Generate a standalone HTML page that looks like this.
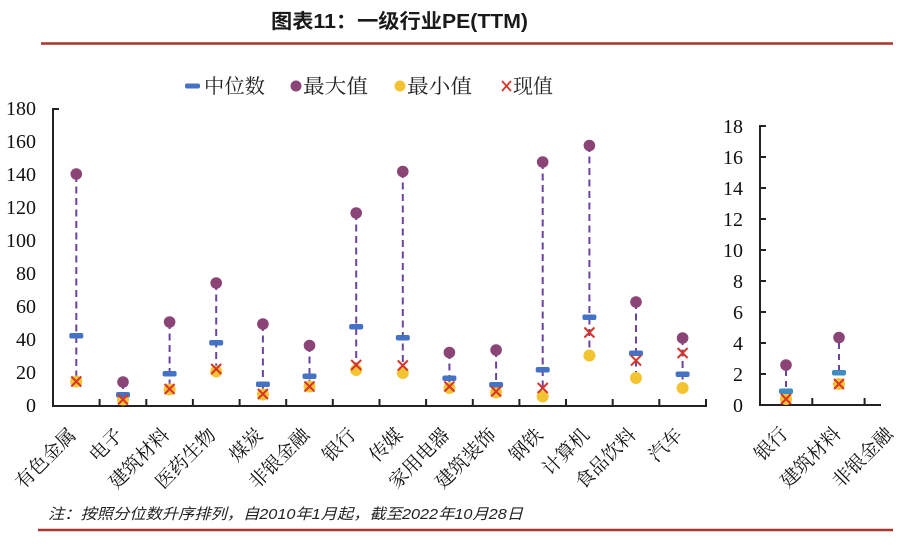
<!DOCTYPE html>
<html><head><meta charset="utf-8"><style>
html,body{margin:0;padding:0;background:#fff;}
svg{display:block;}
</style></head><body>
<svg width="905" height="548" viewBox="0 0 905 548" xmlns="http://www.w3.org/2000/svg">
<rect width="905" height="548" fill="#fff"/>
<!-- title -->
<text x="271" y="28" font-family="'Liberation Sans','Noto Sans CJK SC',sans-serif" font-weight="bold" font-size="20" fill="#1a1a1a" textLength="257" lengthAdjust="spacingAndGlyphs">图表11：一级行业PE(TTM)</text>
<line x1="41" y1="43.5" x2="893" y2="43.5" stroke="#A8352D" stroke-width="2.5"/>

<!-- legend -->
<g font-family="'Liberation Serif','Noto Serif CJK SC',serif" font-size="20" fill="#222">
<rect x="185" y="83.5" width="15" height="5" rx="2" fill="#4472C4"/>
<text x="204" y="93" textLength="61" lengthAdjust="spacingAndGlyphs">中位数</text>
<circle cx="296" cy="86" r="5.5" fill="#8A4476"/>
<text x="303" y="93" textLength="65" lengthAdjust="spacingAndGlyphs">最大值</text>
<circle cx="400" cy="86" r="5.5" fill="#F3C432"/>
<text x="407" y="93" textLength="65" lengthAdjust="spacingAndGlyphs">最小值</text>
<g stroke="#D8352A" stroke-width="1.8"><line x1="502" y1="81" x2="511" y2="91"/><line x1="511" y1="81" x2="502" y2="91"/></g>
<text x="513" y="93" textLength="40" lengthAdjust="spacingAndGlyphs">现值</text>
</g>

<!-- left axes -->
<g font-family="'Liberation Serif',serif" font-size="20" fill="#111" text-anchor="end">
<text x="36" y="115">180</text>
<text x="36" y="148">160</text>
<text x="36" y="181">140</text>
<text x="36" y="214">120</text>
<text x="36" y="247">100</text>
<text x="36" y="280">80</text>
<text x="36" y="313">60</text>
<text x="36" y="346">40</text>
<text x="36" y="379">20</text>
<text x="36" y="412">0</text>
</g>
<g stroke="#222" stroke-width="2" fill="none">
<line x1="53" y1="108" x2="53" y2="407"/>
<line x1="52" y1="406" x2="707" y2="406"/>
<line x1="53" y1="109" x2="59" y2="109"/>
<line x1="99.6" y1="406" x2="99.6" y2="399"/>
<line x1="146.3" y1="406" x2="146.3" y2="399"/>
<line x1="192.9" y1="406" x2="192.9" y2="399"/>
<line x1="239.6" y1="406" x2="239.6" y2="399"/>
<line x1="286.2" y1="406" x2="286.2" y2="399"/>
<line x1="332.8" y1="406" x2="332.8" y2="399"/>
<line x1="379.5" y1="406" x2="379.5" y2="399"/>
<line x1="426.1" y1="406" x2="426.1" y2="399"/>
<line x1="472.8" y1="406" x2="472.8" y2="399"/>
<line x1="519.4" y1="406" x2="519.4" y2="399"/>
<line x1="566" y1="406" x2="566" y2="399"/>
<line x1="612.7" y1="406" x2="612.7" y2="399"/>
<line x1="659.3" y1="406" x2="659.3" y2="399"/>
<line x1="706" y1="406" x2="706" y2="399"/>
</g>

<!-- left data: y = 406 - v*1.65 -->
<g>
<g stroke="#6A45A0" stroke-width="2" stroke-dasharray="7,4.5">
<line x1="76.3" y1="175" x2="76.3" y2="381"/>
<line x1="123" y1="382" x2="123" y2="399"/>
<line x1="169.6" y1="322" x2="169.6" y2="389"/>
<line x1="216.2" y1="283" x2="216.2" y2="371"/>
<line x1="262.9" y1="324" x2="262.9" y2="394"/>
<line x1="309.5" y1="345" x2="309.5" y2="386"/>
<line x1="356.2" y1="213" x2="356.2" y2="370"/>
<line x1="402.8" y1="171" x2="402.8" y2="373"/>
<line x1="449.4" y1="352" x2="449.4" y2="388"/>
<line x1="496.1" y1="350" x2="496.1" y2="392"/>
<line x1="542.7" y1="162" x2="542.7" y2="396"/>
<line x1="589.4" y1="145" x2="589.4" y2="356"/>
<line x1="636" y1="302" x2="636" y2="378"/>
<line x1="682.6" y1="338" x2="682.6" y2="388"/>
</g>
<g fill="#F3C432">
<circle cx="76.3" cy="381.5" r="6"/>
<circle cx="123" cy="399.5" r="6"/>
<circle cx="169.6" cy="389.5" r="6"/>
<circle cx="216.2" cy="371.5" r="6"/>
<circle cx="262.9" cy="394.5" r="6"/>
<circle cx="309.5" cy="386.5" r="6"/>
<circle cx="356.2" cy="370" r="6"/>
<circle cx="402.8" cy="373" r="6"/>
<circle cx="449.4" cy="388" r="6"/>
<circle cx="496.1" cy="392.5" r="6"/>
<circle cx="542.7" cy="396.5" r="6"/>
<circle cx="589.4" cy="355.5" r="6"/>
<circle cx="636" cy="378" r="6"/>
<circle cx="682.6" cy="388" r="6"/>
</g>
<g fill="#4472C4">
<rect x="69.3" y="333" width="14" height="5.5" rx="2"/>
<rect x="116" y="392" width="14" height="5.5" rx="2"/>
<rect x="162.6" y="371" width="14" height="5.5" rx="2"/>
<rect x="209.2" y="340" width="14" height="5.5" rx="2"/>
<rect x="255.9" y="381.5" width="14" height="5.5" rx="2"/>
<rect x="302.5" y="373.5" width="14" height="5.5" rx="2"/>
<rect x="349.2" y="324" width="14" height="5.5" rx="2"/>
<rect x="395.8" y="335" width="14" height="5.5" rx="2"/>
<rect x="442.4" y="375.5" width="14" height="5.5" rx="2"/>
<rect x="489.1" y="382" width="14" height="5.5" rx="2"/>
<rect x="535.7" y="367" width="14" height="5.5" rx="2"/>
<rect x="582.4" y="314.5" width="14" height="5.5" rx="2"/>
<rect x="629" y="350.5" width="14" height="5.5" rx="2"/>
<rect x="675.6" y="371.5" width="14" height="5.5" rx="2"/>
</g>
<g fill="#8A4476">
<circle cx="76.3" cy="174" r="5.8"/>
<circle cx="123" cy="382" r="5.8"/>
<circle cx="169.6" cy="322" r="5.8"/>
<circle cx="216.2" cy="283" r="5.8"/>
<circle cx="262.9" cy="324" r="5.8"/>
<circle cx="309.5" cy="345.5" r="5.8"/>
<circle cx="356.2" cy="213" r="5.8"/>
<circle cx="402.8" cy="171.5" r="5.8"/>
<circle cx="449.4" cy="352.5" r="5.8"/>
<circle cx="496.1" cy="350" r="5.8"/>
<circle cx="542.7" cy="162" r="5.8"/>
<circle cx="589.4" cy="145.5" r="5.8"/>
<circle cx="636" cy="302" r="5.8"/>
<circle cx="682.6" cy="338" r="5.8"/>
</g>
<g stroke="#D8352A" stroke-width="2" fill="none">
<path d="M71.3 376.5l10 10M81.3 376.5l-10 10"/>
<path d="M118 394.5l10 10M128 394.5l-10 10"/>
<path d="M164.6 384l10 10M174.6 384l-10 10"/>
<path d="M211.2 364l10 10M221.2 364l-10 10"/>
<path d="M257.9 389l10 10M267.9 389l-10 10"/>
<path d="M304.5 381.5l10 10M314.5 381.5l-10 10"/>
<path d="M351.2 360l10 10M361.2 360l-10 10"/>
<path d="M397.8 360.5l10 10M407.8 360.5l-10 10"/>
<path d="M444.4 381.5l10 10M454.4 381.5l-10 10"/>
<path d="M491.1 386.5l10 10M501.1 386.5l-10 10"/>
<path d="M537.7 383l10 10M547.7 383l-10 10"/>
<path d="M584.4 327.5l10 10M594.4 327.5l-10 10"/>
<path d="M631 355.5l10 10M641 355.5l-10 10"/>
<path d="M677.6 348l10 10M687.6 348l-10 10"/>
</g>
</g>

<!-- left category labels -->
<g font-family="'Liberation Serif','Noto Serif CJK SC',serif" font-size="19" fill="#111" text-anchor="end">
<text transform="translate(77,436) rotate(-45)">有色金属</text>
<text transform="translate(124,436) rotate(-45)">电子</text>
<text transform="translate(170.5,436) rotate(-45)">建筑材料</text>
<text transform="translate(217,436) rotate(-45)">医药生物</text>
<text transform="translate(264,436) rotate(-45)">煤炭</text>
<text transform="translate(310.5,436) rotate(-45)">非银金融</text>
<text transform="translate(357,436) rotate(-45)">银行</text>
<text transform="translate(404,436) rotate(-45)">传媒</text>
<text transform="translate(450.5,436) rotate(-45)">家用电器</text>
<text transform="translate(497,436) rotate(-45)">建筑装饰</text>
<text transform="translate(544,436) rotate(-45)">钢铁</text>
<text transform="translate(590.5,436) rotate(-45)">计算机</text>
<text transform="translate(637,436) rotate(-45)">食品饮料</text>
<text transform="translate(683.5,436) rotate(-45)">汽车</text>
</g>

<!-- right chart -->
<g font-family="'Liberation Serif',serif" font-size="20" fill="#111" text-anchor="end">
<text x="743" y="133">18</text>
<text x="743" y="164">16</text>
<text x="743" y="195">14</text>
<text x="743" y="226">12</text>
<text x="743" y="257">10</text>
<text x="743" y="288">8</text>
<text x="743" y="319">6</text>
<text x="743" y="350">4</text>
<text x="743" y="381">2</text>
<text x="743" y="412">0</text>
</g>
<g stroke="#222" stroke-width="2" fill="none">
<line x1="760" y1="125" x2="760" y2="406"/>
<line x1="759" y1="405" x2="881" y2="405"/>
<line x1="760" y1="126" x2="766" y2="126"/>
<line x1="760" y1="157" x2="766" y2="157"/>
<line x1="760" y1="188" x2="766" y2="188"/>
<line x1="760" y1="219" x2="766" y2="219"/>
<line x1="760" y1="250" x2="766" y2="250"/>
<line x1="760" y1="281" x2="766" y2="281"/>
<line x1="760" y1="312" x2="766" y2="312"/>
<line x1="760" y1="343" x2="766" y2="343"/>
<line x1="760" y1="374" x2="766" y2="374"/>
<line x1="812.3" y1="405" x2="812.3" y2="398"/>
<line x1="864.6" y1="405" x2="864.6" y2="398"/>
</g>
<g stroke="#6A45A0" stroke-width="2" stroke-dasharray="6,5">
<line x1="786" y1="370" x2="786" y2="388"/>
<line x1="839" y1="343" x2="839" y2="370"/>
</g>
<circle cx="786" cy="399" r="6" fill="#F3C432"/>
<circle cx="839" cy="384" r="6" fill="#F3C432"/>
<rect x="779" y="388.5" width="14" height="5.5" rx="2" fill="#3E8CC0"/>
<rect x="832" y="370" width="14" height="5.5" rx="2" fill="#3E8CC0"/>
<circle cx="786" cy="365" r="5.8" fill="#8A4476"/>
<circle cx="839" cy="337.5" r="5.8" fill="#8A4476"/>
<g stroke="#D8352A" stroke-width="2" fill="none">
<path d="M781 394l10 10M791 394l-10 10"/>
<path d="M834 379l10 10M844 379l-10 10"/>
</g>
<g font-family="'Liberation Serif','Noto Serif CJK SC',serif" font-size="19" fill="#111" text-anchor="end">
<text transform="translate(789,435) rotate(-45)">银行</text>
<text transform="translate(842,435) rotate(-45)">建筑材料</text>
<text transform="translate(894,435) rotate(-45)">非银金融</text>
</g>

<!-- footer -->
<text x="48" y="519" font-family="'Liberation Sans','Noto Sans CJK SC',sans-serif" font-style="italic" font-size="15" fill="#222" textLength="475" lengthAdjust="spacingAndGlyphs">注：按照分位数升序排列，自2010年1月起，截至2022年10月28日</text>
<line x1="38" y1="530" x2="893" y2="530" stroke="#A8352D" stroke-width="2.5"/>
</svg>
</body></html>
